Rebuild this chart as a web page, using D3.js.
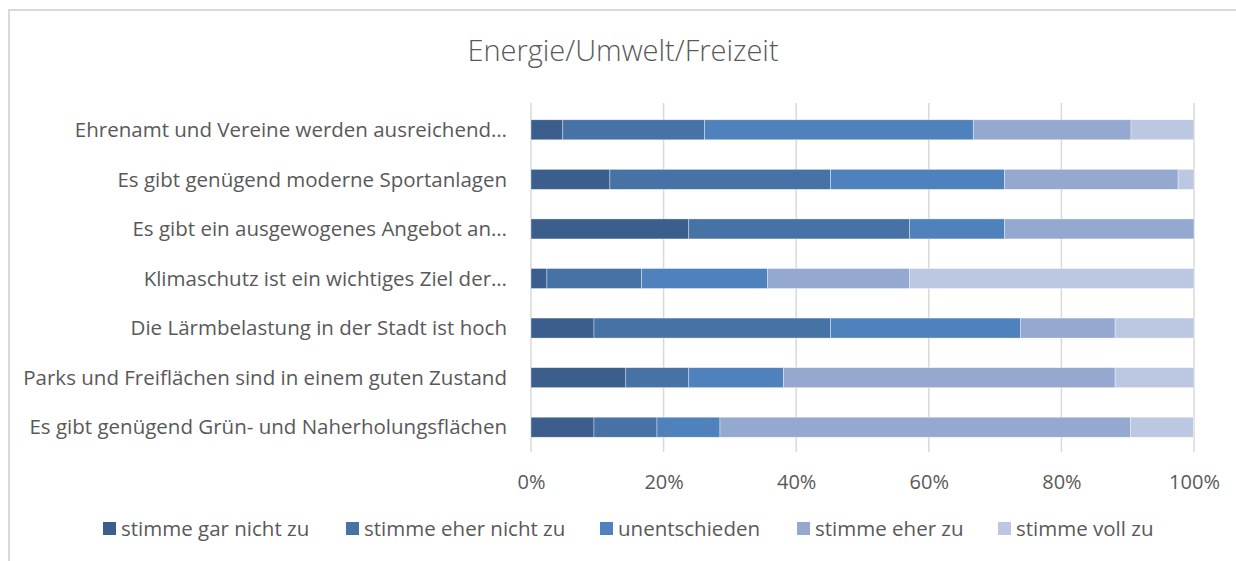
<!DOCTYPE html>
<html><head><meta charset="utf-8">
<script src="https://cdn.jsdelivr.net/npm/d3@7"></script>
<style>
html,body{margin:0;padding:0;background:#fff;}
svg{display:block;}
text{font-family:"Open Sans",sans-serif;fill:#595959;}
</style></head><body>
<svg id="c" width="1236" height="561"></svg>
<script>
const title = "Energie/Umwelt/Freizeit";
const categories = [
  "Ehrenamt und Vereine werden ausreichend…",
  "Es gibt genügend moderne Sportanlagen ",
  "Es gibt ein ausgewogenes Angebot an…",
  "Klimaschutz ist ein wichtiges Ziel der…",
  "Die Lärmbelastung in der Stadt ist hoch",
  "Parks und Freiflächen sind in einem guten Zustand",
  "Es gibt genügend Grün- und Naherholungsflächen"
];
const seriesNames = ["stimme gar nicht zu","stimme eher nicht zu","unentschieden","stimme eher zu","stimme voll zu"];
const garNicht   = [4.8, 11.9, 23.8, 2.4,  9.5, 14.3,  9.5];
const eherNicht  = [21.4, 33.3, 33.3, 14.3, 35.7, 9.5,  9.5];
const unentsch   = [40.5, 26.2, 14.3, 19.0, 28.6, 14.3, 9.5];
const eherZu     = [23.8, 26.2, 28.6, 21.4, 14.3, 50.0, 61.9];
const vollZu     = [9.5,  2.4,  0.0,  42.9, 11.9, 11.9, 9.5];
const tickValues = [0, 20, 40, 60, 80, 100];
const colors = ["#3B5E8C","#4672A6","#4F81BC","#95A9D0","#BCC8E1"];

const svg = d3.select("#c");
// chart frame
svg.append("rect").attr("x",9).attr("y",10).attr("width",1240).attr("height",570)
  .attr("fill","#fff").attr("stroke","#d9d9d9").attr("stroke-width",2);

svg.append("text").attr("x",623).attr("y",61).attr("text-anchor","middle")
  .style("font-size","29px").style("font-weight","300").text(title);

const x = d3.scaleLinear().domain([0,100]).range([531,1194]);
const y = d3.scaleBand().domain(categories).range([105,452]).paddingInner(0.6).paddingOuter(0.3);

// gridlines
svg.append("g").selectAll("line").data(tickValues).join("line")
  .attr("x1",d=>x(d)).attr("x2",d=>x(d)).attr("y1",103).attr("y2",452)
  .attr("stroke","#d9d9d9").attr("stroke-width",1.5);

const rows = categories.map((c,i)=>({cat:c, vals:[garNicht[i],eherNicht[i],unentsch[i],eherZu[i],vollZu[i]]}));
const stackData = rows.map(r=>{const o={cat:r.cat}; seriesNames.forEach((s,j)=>o[s]=r.vals[j]); return o;});
const stack = d3.stack().keys(seriesNames)(stackData);

const bh = 20;
svg.append("g").selectAll("g").data(stack).join("g")
  .attr("fill",(d,i)=>colors[i])
  .selectAll("rect").data(d=>d).join("rect")
  .attr("x",d=>x(d[0])).attr("width",d=>Math.max(0,x(d[1])-x(d[0])))
  .attr("y",d=>y(d.data.cat)+y.bandwidth()/2-bh/2).attr("height",bh)
  .attr("stroke","#fff").attr("stroke-width",0.6).attr("stroke-opacity",0.6);

// category labels
const yAxis = d3.axisLeft(y).tickSize(0).tickPadding(0);
const ya = svg.append("g").attr("transform","translate(507,0)").call(yAxis);
ya.select(".domain").remove();
ya.selectAll("text").style("font-size","20.5px").style("font-family","'Open Sans',sans-serif").attr("fill","#595959").attr("dy","0.35em");

// x tick labels
const xAxis = d3.axisBottom(x).tickValues(tickValues).tickFormat(d=>d+"%").tickSize(0).tickPadding(0);
const xa = svg.append("g").attr("transform","translate(0,482)").call(xAxis);
xa.select(".domain").remove();
xa.selectAll("text").style("font-size","20px").style("font-family","'Open Sans',sans-serif").attr("fill","#595959").attr("dy","0.35em");

// legend
const legX = [103, 346, 600, 797, 998];
const leg = svg.append("g").selectAll("g").data(seriesNames).join("g")
  .attr("transform",(d,i)=>`translate(${legX[i]},522)`);
leg.append("rect").attr("width",13).attr("height",13).attr("fill",(d,i)=>colors[i]);
leg.append("text").attr("x",18).attr("y",7).attr("dy","0.35em").style("font-size","20.5px").text(d=>d);
</script>
</body></html>
